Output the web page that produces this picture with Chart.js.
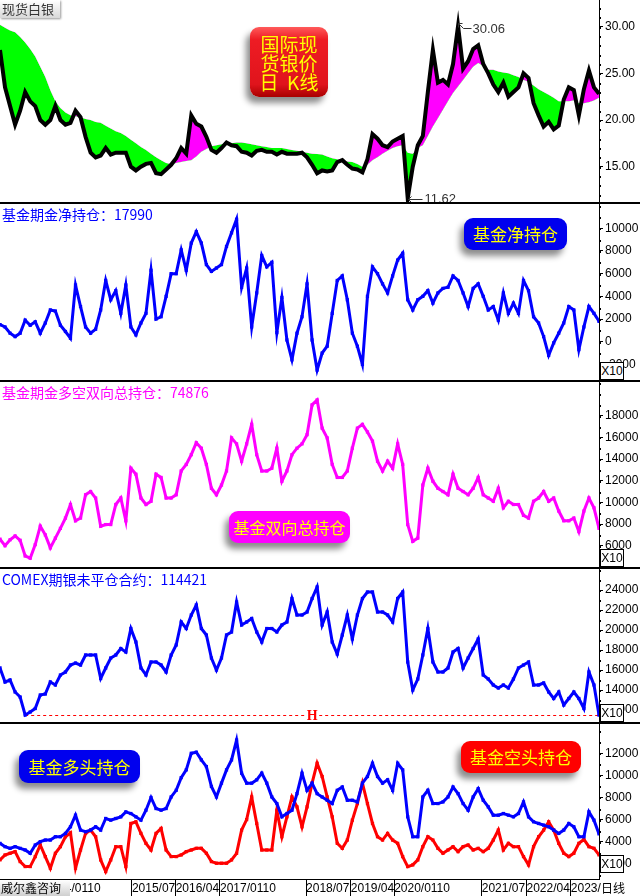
<!DOCTYPE html>
<html>
<head>
<meta charset="utf-8">
<script src="https://cdn.jsdelivr.net/npm/chart.js@4.4.1/dist/chart.umd.min.js"></script>
<style>
body { margin: 0; width: 640px; height: 896px; overflow: hidden; background: #fff; position: relative; font-family: "Noto Sans CJK SC", sans-serif; }
canvas { position: absolute; left: 0; }
.hr { position: absolute; left: 0; width: 640px; height: 2px; background: #000; }
.lbl { position: absolute; left: 2px; font-size: 14px; line-height: 16px; white-space: nowrap; }
.badge { position: absolute; color: #ffff00; text-align: center; border-radius: 9px; box-shadow: -4px 6px 6px rgba(0,0,0,.45); white-space: nowrap; }
.x10 { position: absolute; left: 600px; width: 22px; height: 16px; border: 1px solid #000; background: #fff; font: 12px "Liberation Sans", Arial, sans-serif; line-height: 16px; text-align: center; }
</style>
</head>
<body>
<canvas id="c-price" width="640" height="203" style="top:0"></canvas>
<canvas id="c-net" width="640" height="178" style="top:203px"></canvas>
<canvas id="c-total" width="640" height="187" style="top:381px"></canvas>
<canvas id="c-oi" width="640" height="155" style="top:568px"></canvas>
<canvas id="c-pos" width="640" height="173" style="top:723px"></canvas>

<div class="hr" style="top:202px"></div>
<div class="hr" style="top:380px"></div>
<div class="hr" style="top:567px"></div>
<div class="hr" style="top:722px"></div>

<div style="position:absolute;left:0;top:0;width:58px;height:18px;background:linear-gradient(#fff,#d8d8d8);box-shadow:1px 1px 2px #999;font-size:13px;line-height:18px;color:#333;padding-left:2px">现货白银</div>

<div class="lbl" style="top:206px;color:#0000ff">基金期金净持仓：17990</div>
<div class="lbl" style="top:384px;color:#ff00ff">基金期金多空双向总持仓：74876</div>
<div class="lbl" style="top:571px;color:#0000ff">COMEX期银未平仓合约：114421</div>

<div class="badge" style="left:250px;top:27px;width:78px;height:70px;background:linear-gradient(#ff5a5a,#ee1c24 18%,#e0141c 82%,#a80000);font-size:19px;line-height:19px;box-sizing:border-box;display:flex;flex-direction:column;justify-content:center">国际现<br>货银价<br>日&nbsp;&nbsp;K线</div>
<div class="badge" style="left:464px;top:218px;width:103px;height:32px;background:#0000ee;font-size:17px;line-height:32px">基金净持仓</div>
<div class="badge" style="left:229px;top:511px;width:121px;height:32px;background:#ff00ff;font-size:16px;line-height:32px">基金双向总持仓</div>
<div class="badge" style="left:19px;top:750px;width:121px;height:33px;background:#0000ee;font-size:17px;line-height:33px">基金多头持仓</div>
<div class="badge" style="left:461px;top:741px;width:120px;height:32px;background:#ff0000;font-size:17px;line-height:32px">基金空头持仓</div>

<div class="x10" style="top:362px">X10</div>
<div class="x10" style="top:549px">X10</div>
<div class="x10" style="top:704px">X10</div>
<div class="x10" style="top:855px">X10</div>

<div style="position:absolute;left:0;top:880px;width:69px;height:16px;background:linear-gradient(#fff,#cfcfcf);font-size:12px;line-height:16px;color:#000;padding-left:1px">威尔鑫咨询</div>
<div style="position:absolute;left:601px;top:880px;font-size:12px;line-height:16px;color:#000">日线</div>

<script>
/* ---- data, one point every ~5 px, 2013/04 .. 2023/06 ---- */
const close = [27.5, 23.5, 21.5, 19.5, 21, 23, 22, 21.5, 20, 19.5,
  20, 21.5, 20, 19.5, 19.7, 21, 20.3, 18.2, 16.5, 16,
  16.2, 17, 16.3, 16.5, 16.5, 16.5, 15, 14.6, 15, 15.3,
  15.4, 14.3, 14.2, 14.7, 15.2, 15.9, 17, 16.4, 20.5, 19.6,
  19.3, 18.2, 16.8, 16.5, 17, 17.6, 17.3, 17.2, 16.6, 16.5,
  16.2, 16.7, 16.8, 16.6, 16.6, 16.3, 16.6, 16.4, 16.4, 16.4,
  16.5, 16, 15.2, 14.3, 14.6, 14.5, 14.6, 15.5, 15.7, 15.2,
  14.8, 14.7, 14.4, 15.8, 18.5, 18, 17.3, 17.1, 17.7, 18,
  18.3, 11.62, 15, 17.3, 18.3, 23, 27.5, 24, 24.3, 23.8,
  26, 30.06, 25.5, 26.3, 27.6, 28, 26, 25, 23.8, 23,
  24, 22.5, 23, 23.5, 25, 24.5, 21.8, 20.5, 19.3, 19.8,
  19, 19.4, 22.2, 23.5, 23.2, 20.5, 23.3, 25.3, 23.5, 22.8];

const ma = [30.2, 29.9, 29.6, 29.4, 28.9, 28.3, 27.6, 26.8, 25.7, 24.6,
  23.2, 22, 21.3, 20.8, 20.5, 20.4, 20.3, 20.1, 20, 19.8,
  19.7, 19.4, 19.1, 18.8, 18.6, 18.3, 17.9, 17.5, 17.1, 16.8,
  16.4, 16, 15.7, 15.4, 15.3, 15.4, 15.5, 15.6, 15.7, 16.1,
  16.6, 16.9, 17.2, 17.3, 17.4, 17.5, 17.5, 17.6, 17.6, 17.5,
  17.4, 17.3, 17.2, 17.1, 17, 17, 17, 16.9, 16.8, 16.7,
  16.6, 16.5, 16.4, 16.35, 16.3, 16.1, 15.9, 15.8, 15.6, 15.55,
  15.5, 15.3, 15, 15.2, 15.7, 16, 16.4, 16.7, 17, 17.2,
  17.3, 16.5, 16.4, 17, 17.3, 18.3, 19.3, 20.2, 21.1, 22,
  22.9, 23.6, 24.3, 25, 25.7, 26.1, 25.8, 25.4, 25.4, 25.2,
  25.1, 25, 24.8, 24.6, 24.3, 24.1, 23.7, 23.3, 23, 22.7,
  22.4, 22, 22, 22, 22.1, 21.8, 21.8, 21.9, 22.1, 22.4];

const netPos = [1500, 1300, 750, 450, 750, 1900, 1450, 1750, 750, 1650,
  2800, 2700, 1450, 900, 300, 5000, 3100, 1300, 750, 1100,
  2800, 5400, 3700, 4500, 2500, 5000, 1300, 600, 1650, 2500,
  6300, 2000, 2200, 4000, 6000, 6000, 8100, 6300, 8700, 9700,
  8700, 6800, 6200, 6500, 6800, 8400, 9600, 10800, 4800, 6500,
  1300, 4300, 7600, 6600, 7000, 800, 3900, 150, -1600, 750,
  2200, 5100, 150, -2500, -1000, -400, 2500, 5400, 5800, 3700,
  750, -400, -2000, 4000, 6600, 6000, 5100, 4300, 5800, 7200,
  7800, 3700, 2800, 3700, 4000, 4500, 3400, 4300, 4700, 4800,
  5800, 5400, 4300, 3100, 4700, 5100, 4000, 2800, 3100, 1900,
  4300, 2500, 3400, 2500, 5400, 4500, 2200, 1650, 450, -1200,
  -100, 750, 1650, 3100, 2800, -700, 1300, 3100, 2500, 1800];

const totalPos = [6600, 6000, 6550, 6900, 6500, 5050, 4850, 6100, 7800, 7000,
  5800, 6700, 7600, 8550, 9800, 8300, 8550, 10700, 11000, 10400,
  7800, 7950, 7950, 9800, 10400, 8300, 13150, 12600, 10400, 9800,
  10100, 12600, 12300, 10400, 10400, 10700, 12900, 13500, 14400, 15500,
  15000, 13500, 11300, 10700, 11600, 12900, 15950, 15400, 13800, 15400,
  17200, 14400, 12900, 12900, 13150, 15000, 11950, 12900, 14400, 15000,
  15400, 16250, 19000, 19450, 16850, 15950, 13500, 12300, 12300, 12900,
  15000, 16850, 17200, 16500, 15650, 13800, 12900, 13800, 13150, 15400,
  13500, 7950, 6400, 6700, 11600, 13150, 11950, 11300, 11000, 10700,
  12600, 11300, 11000, 10700, 11300, 12300, 10700, 10400, 10100, 11300,
  9500, 10100, 9800, 9800, 8800, 8550, 10100, 10400, 11000, 10100,
  10400, 9200, 8300, 8300, 8550, 7300, 9200, 10400, 9500, 7600];

const openInt = [16200, 14800, 15000, 13800, 13300, 11500, 11800, 12150, 13500, 13600,
  14800, 14500, 15500, 15800, 16500, 16700, 16500, 17500, 17500, 17500,
  15150, 16200, 17200, 17500, 18150, 17800, 20150, 18800, 16200, 15500,
  16800, 16800, 16500, 15800, 17500, 18500, 20800, 20150, 21500, 22500,
  20150, 19500, 17200, 16000, 17200, 19500, 19800, 22800, 20500, 20800,
  21150, 19800, 18800, 20150, 20150, 19800, 20500, 20800, 23150, 21500,
  21500, 21800, 23150, 24300, 20500, 21800, 18800, 17600, 19500, 21500,
  19100, 21500, 23150, 23800, 23800, 21800, 21800, 21500, 20800, 23150,
  23800, 16800, 14000, 15100, 17500, 20150, 16800, 15800, 15800, 16200,
  17800, 18150, 16200, 17200, 18150, 19100, 15500, 15100, 14500, 14200,
  14500, 14200, 15100, 16200, 16500, 16800, 14500, 14500, 14700, 13800,
  13150, 13800, 12500, 13150, 13800, 13150, 12150, 15800, 14500, 11500];

const longPos = [3850, 3550, 3400, 3550, 3400, 3250, 2950, 3700, 4000, 4150,
  4150, 4450, 4450, 4750, 5350, 6400, 5050, 4900, 5050, 5350,
  5050, 6100, 5950, 6100, 6250, 6700, 6550, 6250, 5950, 6850,
  8000, 7000, 6850, 7000, 8050, 8650, 9800, 10500, 12000, 12100,
  11400, 10800, 9000, 8050, 9300, 10500, 11400, 13200, 10200, 9300,
  9300, 9600, 10200, 9300, 8050, 7450, 6250, 6550, 6850, 8350,
  10200, 8650, 9300, 8350, 8050, 7750, 7450, 8650, 8950, 7750,
  7750, 7600, 9300, 9900, 11100, 9900, 9300, 9600, 8650, 11100,
  10500, 6250, 4450, 4450, 8050, 8650, 7450, 7450, 7600, 8050,
  8950, 8350, 7450, 6850, 8050, 8800, 7750, 7150, 6400, 6400,
  6550, 6400, 6250, 6550, 7600, 6250, 5800, 5650, 5500, 5350,
  5050, 4750, 5050, 5650, 5350, 4450, 4450, 6700, 5950, 4700];

const shortPos = [2350, 2800, 2950, 3100, 2200, 1750, 1750, 2650, 3700, 2650,
  1600, 2950, 3550, 4450, 4800, 1600, 3250, 4750, 5050, 4450,
  2350, 1300, 2350, 3550, 3550, 1750, 5650, 5800, 4750, 3850,
  3250, 4750, 5200, 3250, 2650, 2650, 2800, 3100, 3250, 3400,
  3400, 2950, 2200, 2050, 2050, 2050, 2350, 2950, 5050, 6000,
  8050, 5650, 3250, 3250, 3250, 6850, 4450, 6250, 8050, 7150,
  5350, 7150, 9300, 11100, 9900, 8050, 6250, 3850, 3400, 4150,
  5950, 7450, 9300, 7450, 5650, 4450, 4150, 4750, 4150, 3850,
  2650, 1750, 1900, 2350, 3550, 4450, 4150, 3400, 2950, 3250,
  3550, 3100, 3550, 3700, 3250, 3400, 3100, 3400, 4150, 5050,
  3250, 3850, 3550, 3550, 2650, 1900, 3550, 4450, 5050, 5800,
  5050, 3850, 2950, 2650, 2950, 3850, 4200, 3550, 3400, 2800];

const xTickText = ['2014/0110', '2015/07', '2016/04', '2017/0110', '2018/07',
  '2019/04', '2020/0110', '2021/07', '2022/04', '2023/'];
const xTickPos = [8.9, 26.2, 34.9, 43.7, 60.8, 69.7, 78.3, 95.7, 104.6, 113.4];

const priceTicks = [15, 20, 25, 30];
const netTicks = [-2000, 0, 2000, 4000, 6000, 8000, 10000];
const totalTicks = [6000, 8000, 10000, 12000, 14000, 16000, 18000];
const oiTicks = [12000, 14000, 16000, 18000, 20000, 22000, 24000];
const posTicks = [2000, 4000, 6000, 8000, 10000, 12000];

const idx = close.map((_, i) => i);

Chart.defaults.font.family = '"Liberation Sans", Arial, sans-serif';
Chart.defaults.font.size = 12;
Chart.defaults.color = '#000';

/* ---- small dots between the labelled ticks ---- */
const minorDots = {
  id: 'minorDots',
  afterDraw(chart, args, opts) {
    if (!opts.step) return;
    const s = chart.scales.y, ctx = chart.ctx;
    ctx.save();
    ctx.fillStyle = '#000';
    for (let v = Math.ceil(s.min / opts.step) * opts.step; v <= s.max; v += opts.step) {
      ctx.fillRect(s.left + 1, Math.round(s.getPixelForValue(v)), 1, 2);
    }
    ctx.restore();
  }
};

/* ---- high / low arrows on the price panel ---- */
const extremes = {
  id: 'extremes',
  afterDatasetsDraw(chart) {
    const data = chart.data.datasets[0].data;
    const xs = chart.scales.x, ys = chart.scales.y, ctx = chart.ctx;
    const hi = data.indexOf(Math.max(...data));
    const lo = data.indexOf(Math.min(...data));
    ctx.save();
    ctx.strokeStyle = '#333';
    ctx.fillStyle = '#333';
    ctx.lineWidth = 1;
    ctx.font = '13px "Liberation Sans", Arial, sans-serif';
    ctx.textBaseline = 'middle';
    let px = Math.round(xs.getPixelForValue(hi)) + 0.5, py = Math.round(ys.getPixelForValue(data[hi])) - 2.5;
    ctx.beginPath();
    ctx.moveTo(px + 4, py); ctx.lineTo(px, py); ctx.lineTo(px, py + 4);
    ctx.moveTo(px, py); ctx.lineTo(px + 5, py + 5); ctx.lineTo(px + 13, py + 5);
    ctx.stroke();
    ctx.fillText(data[hi].toFixed(2), px + 14, py + 6);
    px = Math.round(xs.getPixelForValue(lo)) + 0.5; py = Math.round(ys.getPixelForValue(data[lo])) + 1.5;
    ctx.beginPath();
    ctx.moveTo(px + 3, py - 3); ctx.lineTo(px, py); ctx.lineTo(px + 3, py + 3);
    ctx.moveTo(px, py); ctx.lineTo(px + 14, py);
    ctx.stroke();
    ctx.fillText(data[lo].toFixed(2), px + 16, py);
    ctx.restore();
  }
};

/* ---- dashed red line at the lowest open interest ---- */
const lowLine = {
  id: 'lowLine',
  beforeDatasetsDraw(chart) {
    const data = chart.data.datasets[0].data;
    const lo = Math.min(...data), i = data.indexOf(lo);
    const xs = chart.scales.x, ys = chart.scales.y, ctx = chart.ctx;
    const x0 = xs.getPixelForValue(i), x1 = chart.chartArea.right;
    const y = Math.round(ys.getPixelForValue(lo)) + 0.5;
    ctx.save();
    ctx.strokeStyle = '#ff0000';
    ctx.lineWidth = 1;
    ctx.setLineDash([3, 3]);
    ctx.beginPath(); ctx.moveTo(x0, y); ctx.lineTo(x1, y); ctx.stroke();
    const xm = (x0 + x1) / 2;
    ctx.fillStyle = '#fff';
    ctx.fillRect(xm - 7, y - 7, 14, 14);
    ctx.fillStyle = '#ff0000';
    ctx.font = 'bold 14px "Liberation Serif", serif';
    ctx.textAlign = 'center';
    ctx.textBaseline = 'middle';
    ctx.fillText('H', xm, y + 1);
    ctx.restore();
  }
};

function lineSet(data, color) {
  return {
    data, borderColor: color, backgroundColor: color, borderWidth: 3,
    pointStyle: 'rect', pointRadius: 2.3, pointBorderWidth: 0,
    pointBackgroundColor: color, tension: 0, fill: false
  };
}

function panel(id, datasets, y, extra = {}) {
  return new Chart(document.getElementById(id), {
    type: 'line',
    data: { labels: idx, datasets },
    plugins: [minorDots].concat(extra.plugins || []),
    options: {
      responsive: false,
      animation: false,
      devicePixelRatio: 1,
      layout: { padding: 0, autoPadding: false },
      plugins: {
        legend: { display: false },
        tooltip: { enabled: false },
        minorDots: { step: y.minor }
      },
      scales: {
        x: extra.x || { type: 'linear', min: 0, max: idx.length - 1, display: false },
        y: {
          position: 'right',
          min: y.min,
          max: y.max,
          afterBuildTicks: s => { s.ticks = y.ticks.map(v => ({ value: v })); },
          afterFit: s => { s.width = 41; s.paddingTop = 0; s.paddingBottom = 0; },
          ticks: { padding: 2, callback: y.fmt || (v => v) },
          grid: { drawOnChartArea: false, tickLength: 4, color: '#000' },
          border: { color: '#000' }
        }
      }
    }
  });
}

/* ---- price panel ---- */
panel('c-price', [
  {
    data: close, borderColor: '#000', borderWidth: 4, pointRadius: 0, tension: 0,
    fill: { target: 1, above: '#ff00ff', below: '#00ff00' }
  },
  { data: ma, borderColor: 'rgba(0,0,0,0)', borderWidth: 0, pointRadius: 0, fill: false }
], { min: 11.11, max: 32.86, ticks: priceTicks, minor: 1, fmt: v => v.toFixed(2) }, { plugins: [extremes] });

/* ---- fund net ---- */
panel('c-net', [lineSet(netPos, '#0000ff')],
  { min: -3466, max: 12233, ticks: netTicks, minor: 1000 });

/* ---- fund long + short total ---- */
panel('c-total', [lineSet(totalPos, '#ff00ff')],
  { min: 3942, max: 21202, ticks: totalTicks, minor: 1000 });

/* ---- COMEX open interest ---- */
panel('c-oi', [lineSet(openInt, '#0000ff')],
  { min: 10700, max: 26200, ticks: oiTicks, minor: 1000 }, { plugins: [lowLine] });

/* ---- fund long / short, with the date axis ---- */
panel('c-pos', [lineSet(longPos, '#0000ff'), lineSet(shortPos, '#ff0000')],
  { min: 624, max: 14742, ticks: posTicks, minor: 1000 },
  {
    x: {
      type: 'linear', min: 0, max: idx.length - 1,
      afterBuildTicks: s => { s.ticks = xTickPos.map(v => ({ value: v })); },
      afterFit: s => { s.height = 17; s.paddingLeft = 0; s.paddingRight = 0; },
      ticks: { autoSkip: false, maxRotation: 0, align: 'start', padding: -15, callback: (v, i) => xTickText[i] },
      grid: { drawOnChartArea: false, tickLength: 17, color: '#000' },
      border: { color: '#000' }
    }
  });
</script>
</body>
</html>
